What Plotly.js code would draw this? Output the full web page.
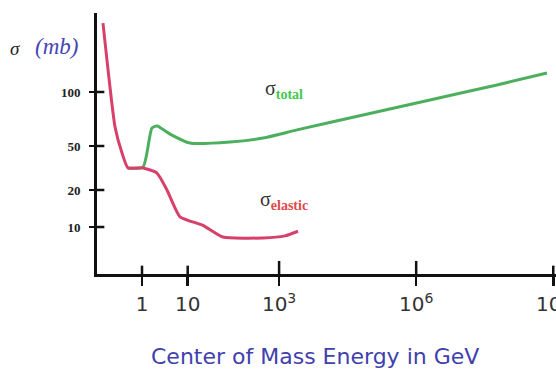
<!DOCTYPE html>
<html>
<head>
<meta charset="utf-8">
<script src="https://cdn.plot.ly/plotly-3.0.1.min.js"></script>
<style>html,body{margin:0;padding:0;background:#fff;}#chart{width:556px;height:371px;}</style>
</head>
<body>
<div id="chart"></div>
<script>
// Elastic cross-section (GeV, mb-axis units)
var elasticE = [0.14, 0.257, 0.365, 0.494, 1.05, 2.13, 3.52, 6.78, 21.6, 59, 444, 1346, 2594];
var elasticSigma = [324, 55, 35.3, 27.4, 27.4, 25.1, 18.8, 11.9, 10.3, 8.43, 8.3, 8.6, 9.3];
// Total cross-section
var totalE = [0.494, 1.05, 1.65, 2.13, 4.1, 11.2, 84, 444, 2466, 6.86e4, 2.0e6, 5.87e7, 7.28e8];
var totalSigma = [27.4, 27.8, 54.1, 56, 48.8, 41.9, 42.6, 45.6, 52.4, 67.6, 87.3, 112.7, 138.4];
// Tick labels
var xTickVals = [1, 10, 1e3, 1e6, 1e9];
var xTickText = ["1", "10", "10<sup>3</sup>", "10<sup>6</sup>", "10<sup>9</sup>"];
var yTickVals = [10, 18.8, 39.8, 100];
var yTickText = ["10", "20", "50", "100"];

var xRange = [-0.985, 9.06];
var yRange = [0.652, 2.585];

var traces = [
  {x: totalE, y: totalSigma, mode: 'lines', line: {color: '#4caf5e', width: 3, shape: 'spline', smoothing: 0.6}, hoverinfo: 'skip'},
  {x: elasticE, y: elasticSigma, mode: 'lines', line: {color: '#d8406a', width: 3, shape: 'spline', smoothing: 0.5}, hoverinfo: 'skip'}
];

// inner halves of the crossing tick marks, placed at the tick values
var tickShapes = [];
yTickVals.forEach(function (v) {
  tickShapes.push({type: 'line', xref: 'paper', yref: 'y', x0: 0, x1: 0.016, y0: v, y1: v,
    line: {color: '#111', width: 2.5}, layer: 'above'});
});
xTickVals.forEach(function (v, i) {
  tickShapes.push({type: 'line', xref: 'x', yref: 'paper', x0: v, x1: v, y0: 0, y1: (i === 2 || i === 3) ? 0.05 : 0.032,
    line: {color: '#111', width: 2.5}, layer: 'above'});
});

var layout = {
  width: 556, height: 371,
  margin: {l: 97, r: 0, t: 13, b: 97},
  paper_bgcolor: '#ffffff', plot_bgcolor: '#ffffff',
  showlegend: false,
  xaxis: {type: 'log', range: xRange, tickvals: xTickVals, ticktext: xTickText,
    showgrid: false, zeroline: false, showline: true, linecolor: '#111', linewidth: 3,
    ticks: 'outside', ticklen: 9, tickwidth: 2.5, tickcolor: '#111', ticklabelstandoff: 1,
    ticklabeloverflow: 'allow',
    tickfont: {family: 'DejaVu Sans', size: 20, color: '#333'}},
  yaxis: {type: 'log', range: yRange, tickvals: yTickVals, ticktext: yTickText,
    showgrid: false, zeroline: false, showline: true, linecolor: '#111', linewidth: 3,
    ticks: 'outside', ticklen: 5, tickwidth: 2.5, tickcolor: '#111', ticklabelstandoff: 6,
    tickfont: {family: 'Liberation Serif', size: 13, color: '#222', weight: 'bold'}},
  shapes: tickShapes,
  annotations: [
    {xref: 'paper', yref: 'paper', x: 0.475, y: -0.315, xanchor: 'center', yanchor: 'middle', showarrow: false,
     text: 'Center of Mass Energy in GeV', font: {family: 'DejaVu Sans', size: 22, color: '#3f3fae'}},
    {xref: 'paper', yref: 'paper', x: -0.193, y: 0.865, xanchor: 'left', yanchor: 'middle', showarrow: false,
     text: '<i>σ</i>', font: {family: 'Liberation Serif', size: 19, color: '#222'}},
    {xref: 'paper', yref: 'paper', x: -0.14, y: 0.872, xanchor: 'left', yanchor: 'middle', showarrow: false,
     text: '<i>(mb)</i>', font: {family: 'Liberation Serif', size: 23, color: '#4545b5'}},
    {xref: 'x', yref: 'y', x: 3.1, y: 2.02, xanchor: 'center', yanchor: 'middle', showarrow: false,
     text: 'σ<sub><span style="color:#3fc94f"><b>total</b></span></sub>', font: {family: 'Liberation Serif', size: 20, color: '#333'}},
    {xref: 'x', yref: 'y', x: 3.1, y: 1.2, xanchor: 'center', yanchor: 'middle', showarrow: false,
     text: 'σ<sub><span style="color:#e04a4a"><b>elastic</b></span></sub>', font: {family: 'Liberation Serif', size: 20, color: '#333'}}
  ]
};

Plotly.newPlot('chart', traces, layout, {staticPlot: true, displayModeBar: false});
</script>
</body>
</html>
